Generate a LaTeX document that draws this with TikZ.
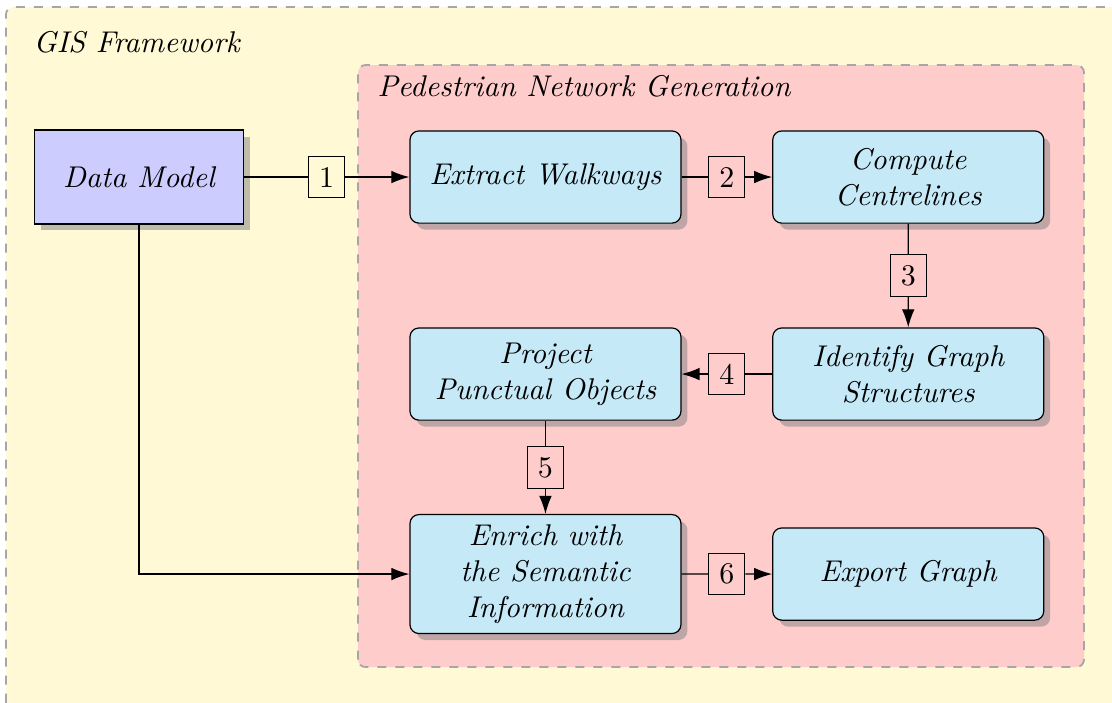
\documentclass[tikz,border=0pt]{standalone}
\usepackage{amsmath}
\usepackage{tikz}
\usetikzlibrary{shapes,arrows.meta,shadows,calc}

\definecolor{gisyellow}{RGB}{255,249,214}
\definecolor{blockblue}{RGB}{198,233,248}

\begin{document}
\begin{tikzpicture}[->,>={Latex[length=6pt,width=4.2pt]},auto,node distance=4.25cm,thin]
\tikzstyle{frame}=[draw=gray!70,semithick,dashed,rounded corners=2.5pt]
\tikzstyle{block}=[draw=black,fill=blockblue,rounded corners=3pt,drop shadow,
  minimum width=3.175cm,minimum height=1.08cm,align=center,font=\itshape]
\tikzstyle{source}=[draw=black,fill=blue!20,drop shadow,
  minimum width=2.44cm,minimum height=1.1cm,font=\itshape]
\tikzstyle{stepnum}=[draw=black,inner sep=3.5pt]
\tikzstyle{title}=[anchor=base west,inner sep=0pt,font=\itshape]
\useasboundingbox (-1.628,-6.150) rectangle (11.399,2.074);
% frames
\draw[frame,fill=gisyellow,-] (-1.558,-6.244) rectangle (11.493,1.992);
\draw[frame,fill=red!20,-] (2.566,-5.740) rectangle (11.071,1.312);
\node[title] (gis) at (-1.242,1.464) {GIS Framework};
\node[title] (ped) at (2.788,0.949) {Pedestrian Network Generation};
% blocks
\node[source] (model) {Data Model};
\node[block][right of=model,node distance=4.762cm](walk){Extract Walkways};
\node[block][right of=walk](cent){Compute\\Centrelines};
\node[block][below of=cent,node distance=2.308cm](ident){Identify Graph\\Structures};
\node[block][left of=ident](proj){Project\\Punctual Objects};
\node[block][below of=proj,node distance=2.343cm](enrich){Enrich with\\the Semantic\\Information};
\node[block][right of=enrich](export){Export Graph};
% step numbers
\node[stepnum] (n1) at ($(model.east)!.5!(walk.west)$) {1};
\node[stepnum] (n2) at ($(walk.east)!.5!(cent.west)$) {2};
\node[stepnum] (n3) at ($(cent.south)!.5!(ident.north)$) {3};
\node[stepnum] (n4) at ($(ident.west)!.5!(proj.east)$) {4};
\node[stepnum] (n5) at ($(proj.south)!.5!(enrich.north)$) {5};
\node[stepnum] (n6) at ($(enrich.east)!.5!(export.west)$) {6};
\path (model) edge[-] (n1)
      (n1) edge (walk)
      (walk) edge[-] (n2)
      (n2) edge (cent)
      (cent) edge[-] (n3)
      (n3) edge (ident)
      (ident) edge[-] (n4)
      (n4) edge (proj)
      (proj) edge[-] (n5)
      (n5) edge (enrich)
      (enrich) edge[-] (n6)
      (n6) edge (export);
\draw (model.south) |- (enrich.west);
\end{tikzpicture}
\end{document}
